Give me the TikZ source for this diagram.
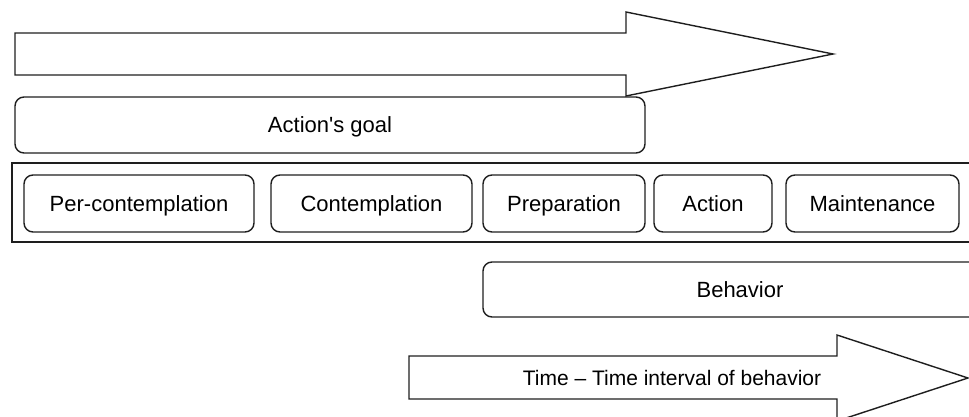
\documentclass[tikz,border=0pt]{standalone}
\usepackage{fontspec}
\setmainfont{Liberation Sans}
\definecolor{ink}{RGB}{30,30,30}
\tikzset{
  outline/.style={draw=ink, line width=1.4pt, line join=miter},
  stagebox/.style={outline, rounded corners=9pt, inner sep=0pt, align=center,
    font=\fontsize{22}{26}\selectfont, text height=16pt, text depth=1pt},
  framebox/.style={outline, inner sep=0pt},
  label/.style={inner sep=0pt, text=black, font=\fontsize{21}{25}\selectfont,
    text height=15pt, text depth=1pt},
}
\begin{document}
\begin{tikzpicture}[x=1pt, y=-1pt]
\useasboundingbox (0,0) rectangle (969,417);
\clip (0,0) rectangle (969,417);

% upper block arrow
\draw[outline] (15,33) -- (626,33) -- (626,12) -- (833,54) -- (626,96)
  -- (626,75) -- (15,75) -- cycle;

% goal bar
\node[stagebox, minimum width=630pt, minimum height=56pt] (goal) at (330,125) {Action\textquotesingle s goal};

% frame around the stages
\node[framebox, minimum width=973pt, minimum height=79pt] (frame) at (498.5,202.5) {};

% the five stages
\node[stagebox, minimum width=230pt, minimum height=57pt] (pre)  at (139,203.5)   {Per-contemplation};
\node[stagebox, minimum width=201pt, minimum height=57pt] (con)  at (371.5,203.5) {Contemplation};
\node[stagebox, minimum width=162pt, minimum height=57pt] (prep) at (564,203.5)   {Preparation};
\node[stagebox, minimum width=118pt, minimum height=57pt] (act)  at (713,203.5)   {Action};
\node[stagebox, minimum width=173pt, minimum height=57pt] (main) at (872.5,203.5) {Maintenance};

% behavior bar
\node[stagebox, minimum width=514pt, minimum height=55pt] (beh) at (740,289.5) {Behavior};

% lower block arrow with its caption
\draw[outline] (409,356) -- (837,356) -- (837,335) -- (968,378) -- (837,421)
  -- (837,399) -- (409,399) -- cycle;
\node[label] (time) at (672,378) {Time – Time interval of behavior};
\end{tikzpicture}
\end{document}
